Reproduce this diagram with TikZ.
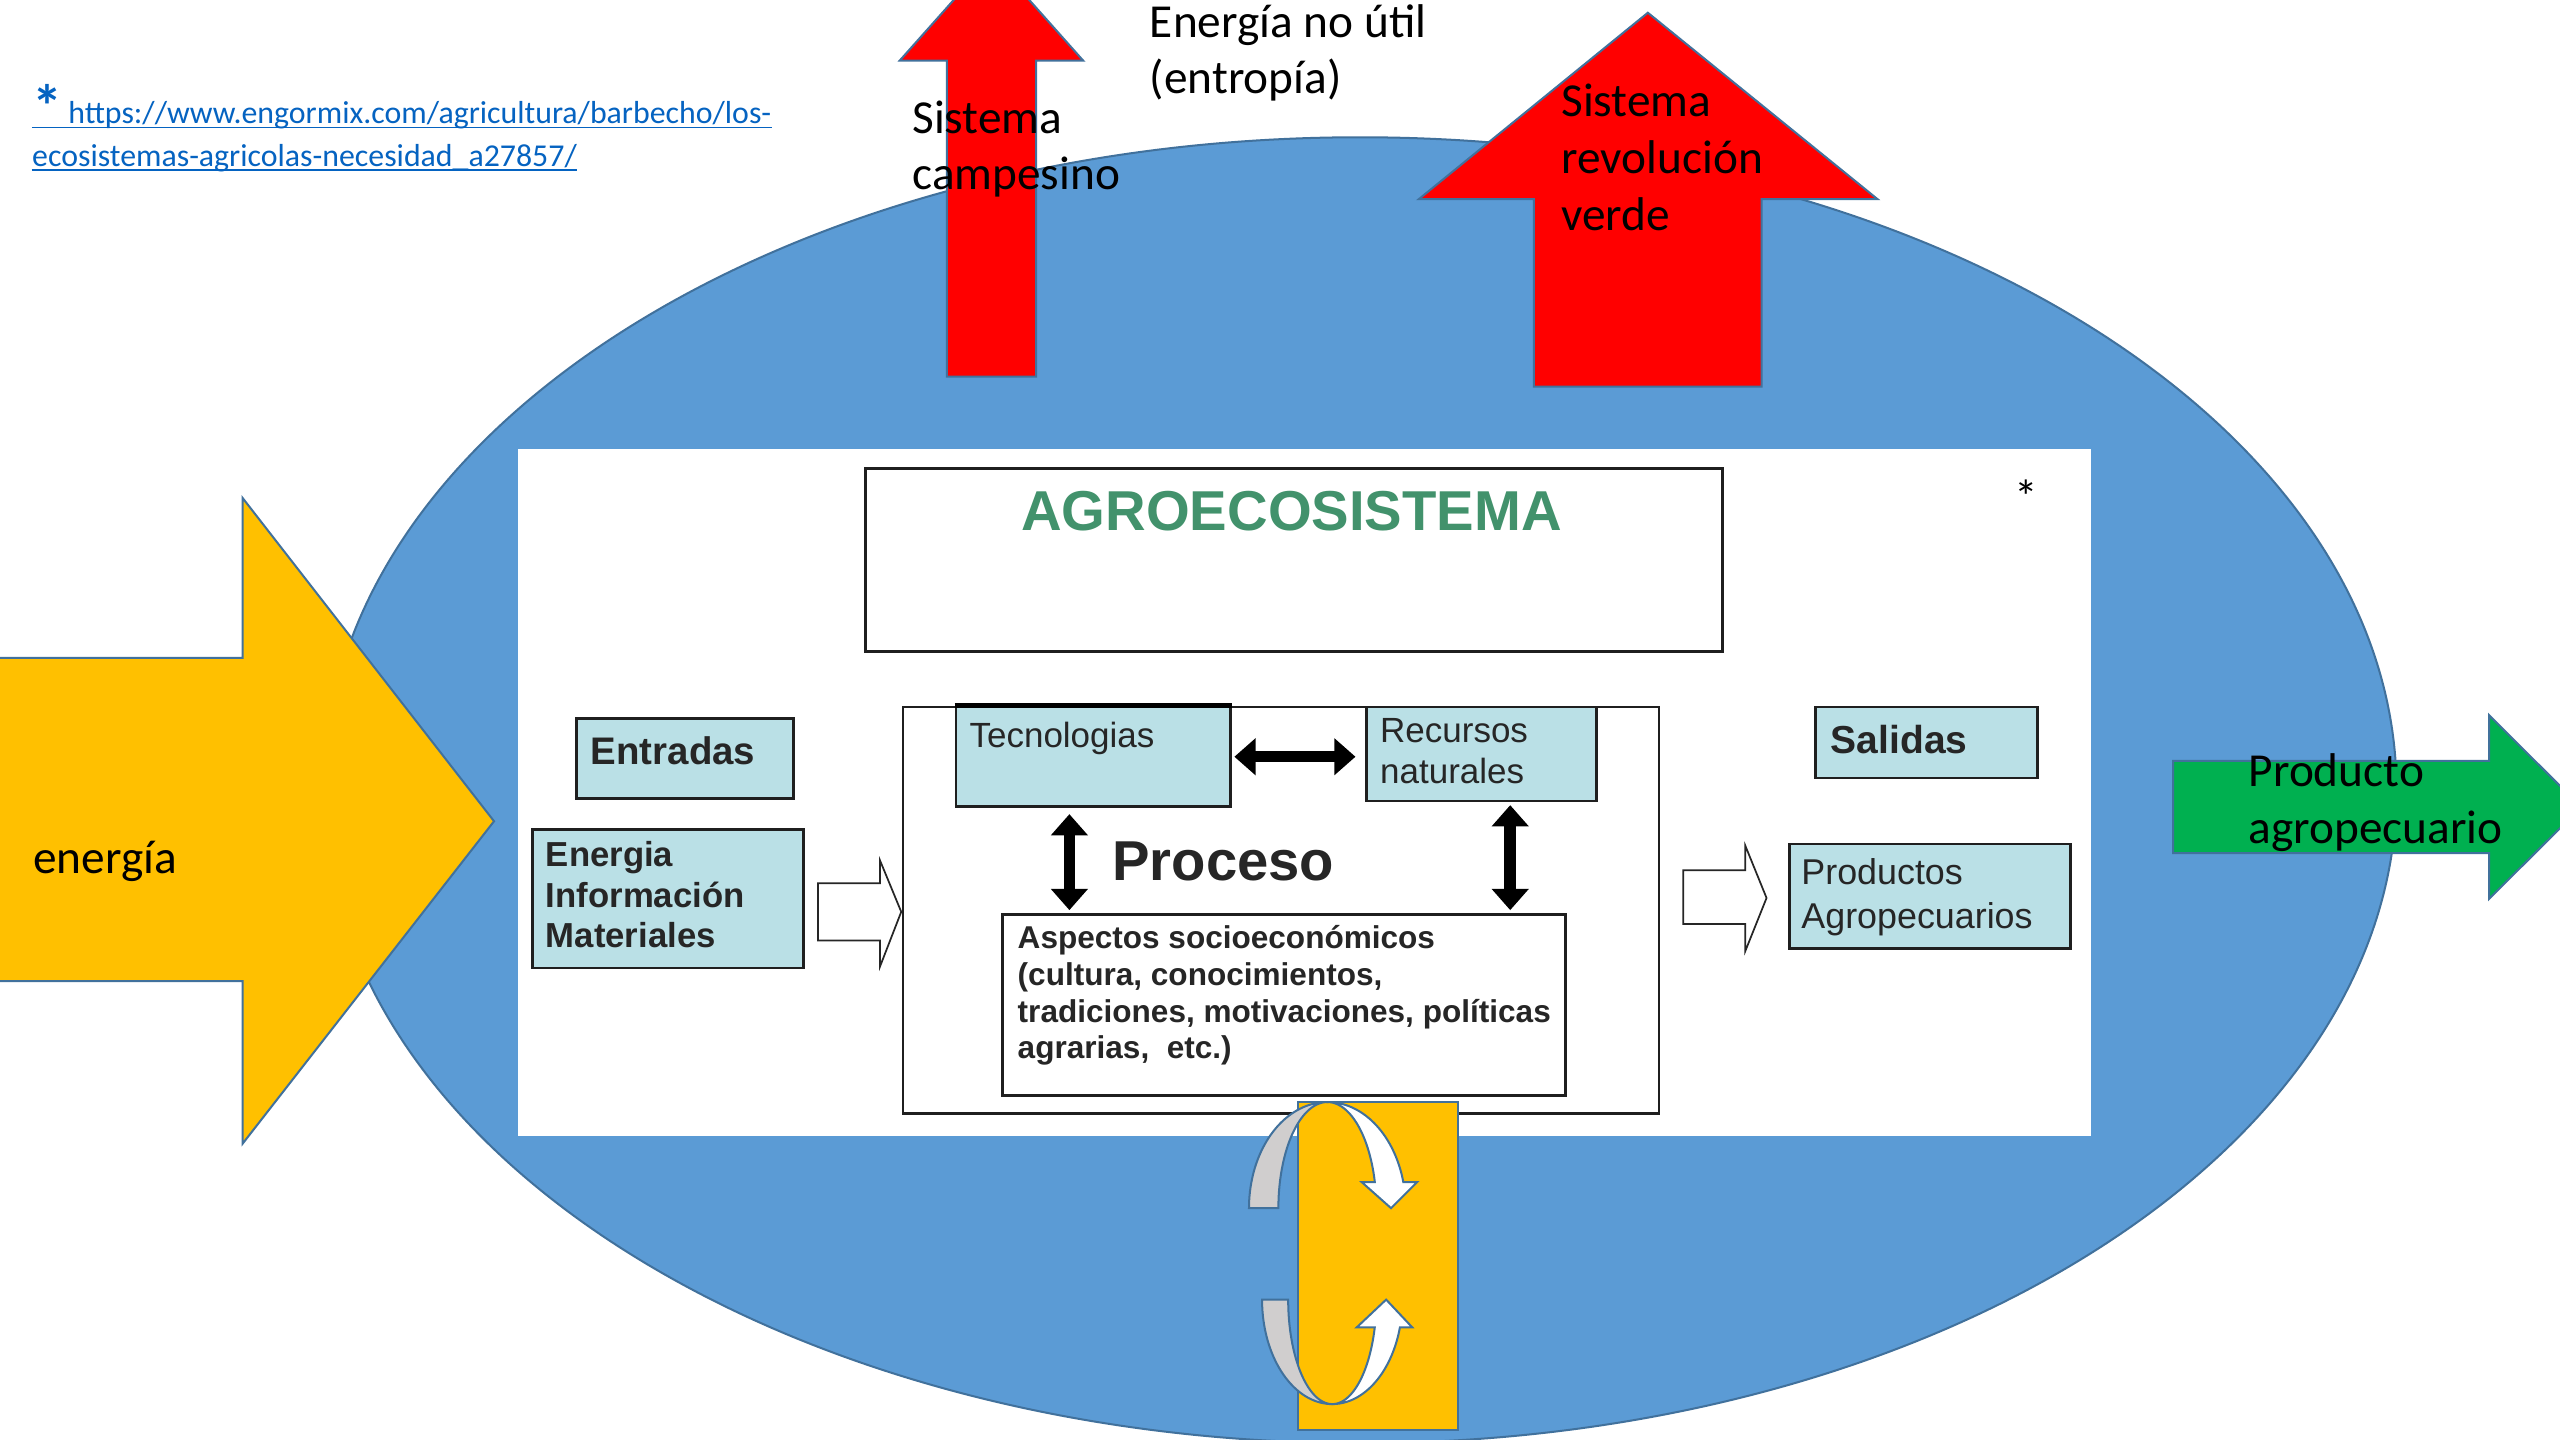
\documentclass[tikz,border=0pt]{standalone}
\usepackage{fontspec}
\setmainfont{Carlito}
\newfontfamily\diagfont{Liberation Sans}
\usetikzlibrary{arrows.meta,calc,fit}

\definecolor{ellblue}{RGB}{91,155,213}
\definecolor{edgeblue}{RGB}{65,113,156}
\definecolor{sunyellow}{RGB}{255,192,0}
\definecolor{hotred}{RGB}{255,0,0}
\definecolor{leafgreen}{RGB}{0,176,80}
\definecolor{boxblue}{RGB}{186,224,230}
\definecolor{titlegreen}{RGB}{66,146,108}
\definecolor{inktext}{RGB}{38,38,38}
\definecolor{linkblue}{RGB}{5,99,193}
\definecolor{loopgray}{RGB}{208,206,206}

\begin{document}
\begin{tikzpicture}[x=0.02cm, y=-0.02cm,
  shapeedge/.style={draw=edgeblue, line width=0.7pt, line join=miter},
  lbl/.style={font=\fontsize{16.5}{20}\selectfont, inner sep=0pt, anchor=base west, text=black},
  linktxt/.style={font=\fontsize{11.1}{14.8}\selectfont, inner sep=0pt, anchor=base west, text=linkblue},
  framebox/.style={draw=black!88, line width=0.9pt, inner sep=0pt, fill=white},
  cellbox/.style={framebox, fill=boxblue},
  dreg/.style={inner sep=0pt, anchor=base west, text=inktext, font=\diagfont\fontsize{12.2}{14}\selectfont},
  dbold/.style={dreg, font=\diagfont\bfseries\fontsize{12.1}{14}\selectfont},
  hollow/.style={draw=black!85, line width=0.6pt, fill=white, line join=miter},
  dbl/.style={draw=black, line width=4pt, {Triangle[length=7.4pt,width=12.5pt]}-{Triangle[length=7.4pt,width=12.5pt]}},
  loopedge/.style={draw=edgeblue, line width=0.7pt, line join=miter}
]
\useasboundingbox (0,0) rectangle (1568,882);
\clip (0,0) rectangle (1568,882);
\fill[white] (0,0) rectangle (1568,882);

% system boundary
\draw[shapeedge, fill=ellblue] (833,484) ellipse [x radius=12.7cm, y radius=8cm];

% energy leaving as entropy
\draw[shapeedge, fill=hotred] (580,230.7) -- (580,37.2) -- (551,37.2) -- (607.3,-26)
  -- (663.5,37.2) -- (634.6,37.2) -- (634.6,230.7) -- cycle;
\draw[shapeedge, fill=hotred] (939.5,236.8) -- (939.5,122) -- (869,122) -- (1009.3,7.8)
  -- (1150,122) -- (1079,122) -- (1079,236.8) -- cycle;

% energy input
\draw[shapeedge, fill=sunyellow] (-5,403) -- (148.6,403) -- (148.6,305) -- (302.6,503)
  -- (148.6,700.5) -- (148.6,601) -- (-5,601) -- cycle;

% product output
\draw[shapeedge, fill=leafgreen] (1331,466) -- (1524.5,466) -- (1524.5,438) -- (1581,494.3)
  -- (1524.5,550.6) -- (1524.5,522.5) -- (1331,522.5) -- cycle;

% agroecosystem panel
\node[fill=white, inner sep=0pt, fit={(317,275) (1281,696)}] (panel) {};

\node[framebox, fit={(530,287) (1055,399)}] (titlebox) {};
\node[inner sep=0pt, anchor=base, text=titlegreen,
      font=\diagfont\bfseries\fontsize{19.6}{23}\selectfont] (title) at (791,325) {AGROECOSISTEMA};
\node[lbl, anchor=base] (note) at (1241,314.5) {*};

% inputs
\node[cellbox, fit={(353,440) (486,489)}] (entbox) {};
\node[dbold, font=\diagfont\bfseries\fontsize{13.4}{16}\selectfont] (enttxt) at (361.5,468) {Entradas};
\node[cellbox, fit={(326,508) (492,593)}] (inbox) {};
\node[dbold] (in1) at (334,531) {Energia};
\node[dbold] (in2) at (334,556) {Información};
\node[dbold] (in3) at (334,580.5) {Materiales};

\draw[hollow] (501,541) -- (539,541) -- (539,527) -- (552,558.5) -- (539,592) -- (539,576)
  -- (501,576) -- cycle;

% process
\node[framebox, fill=none, fit={(553,433) (1016,682)}] (procbox) {};
\node[cellbox, fit={(585.5,433) (753.5,494)}] (tec) {};
\draw[black, line width=1.8pt] (tec.north west) -- (tec.north east);
\node[dreg] (tectxt) at (593.5,458) {Tecnologias};
\node[cellbox, fit={(837,433) (978,490.6)}] (rec) {};
\node[dreg] (rec1) at (845,455) {Recursos};
\node[dreg] (rec2) at (845,480) {naturales};
\node[inner sep=0pt, anchor=base west, text=inktext,
      font=\diagfont\bfseries\fontsize{19.6}{23}\selectfont] (proc) at (681,539) {Proceso};
\node[framebox, fit={(614,560) (959,671)}] (asp) {};
\node[dbold, font=\diagfont\bfseries\fontsize{11}{13}\selectfont] (asp1) at (623,581) {Aspectos socioeconómicos};
\node[dbold, font=\diagfont\bfseries\fontsize{11}{13}\selectfont] (asp2) at (623,603.5) {(cultura, conocimientos,};
\node[dbold, font=\diagfont\bfseries\fontsize{11}{13}\selectfont] (asp3) at (623,626) {tradiciones, motivaciones, políticas};
\node[dbold, font=\diagfont\bfseries\fontsize{11}{13}\selectfont] (asp4) at (623,648.5) {agrarias,\ \ etc.)};

\draw[dbl, shorten <=1pt, shorten >=3.4pt] (tec.east) -- (tec.east -| rec.west);
\coordinate (vl) at ($(tec.south)+(-14.5,0)$);
\draw[dbl, shorten <=2.2pt, shorten >=1pt] (vl) -- (vl |- asp.north);
\coordinate (vr) at ($(rec.south)+(17.5,0)$);
\draw[dbl, shorten <=1pt, shorten >=1pt] (vr) -- (vr |- asp.north);

% outputs
\draw[hollow] (1031,533) -- (1069,533) -- (1069,518) -- (1082,550) -- (1069,582.5) -- (1069,566)
  -- (1031,566) -- cycle;
\node[cellbox, fit={(1112,433) (1248,476.5)}] (salbox) {};
\node[dbold, font=\diagfont\bfseries\fontsize{13.6}{16}\selectfont] (saltxt) at (1121,461.4) {Salidas};
\node[cellbox, fit={(1096,517) (1268,581)}] (prodbox) {};
\node[dreg, font=\diagfont\fontsize{12.5}{15}\selectfont] (prod1) at (1103,541.5) {Productos};
\node[dreg, font=\diagfont\fontsize{12.5}{15}\selectfont] (prod2) at (1103,568.4) {Agropecuarios};

% recycling loop
\node[shapeedge, fill=sunyellow, inner sep=0pt, fit={(795,675) (893,876)}] (loopbox) {};
\filldraw[loopedge, fill=loopgray]
  plot[domain=180:270, samples=40, variable=\t] ({813+48*cos(\t)},{740+65*sin(\t)})
  -- plot[domain=270:180, samples=40, variable=\t] ({813+30*cos(\t)},{740+65*sin(\t)}) -- cycle;
\filldraw[loopedge, fill=white]
  plot[domain=270:345.75, samples=40, variable=\t] ({813+48*cos(\t)},{740+65*sin(\t)})
  -- (868,724) -- (852,740) -- (834,724)
  -- plot[domain=345.75:270, samples=40, variable=\t] ({813+30*cos(\t)},{740+65*sin(\t)}) -- cycle;
\filldraw[loopedge, fill=loopgray]
  plot[domain=180:90, samples=40, variable=\t] ({816+43*cos(\t)},{796+64*sin(\t)})
  -- plot[domain=90:180, samples=40, variable=\t] ({816+27*cos(\t)},{796+64*sin(\t)}) -- cycle;
\filldraw[loopedge, fill=white]
  plot[domain=90:15.4, samples=40, variable=\t] ({816+43*cos(\t)},{796+64*sin(\t)})
  -- (865,813) -- (849,796) -- (831,813)
  -- plot[domain=15.4:90, samples=40, variable=\t] ({816+27*cos(\t)},{796+64*sin(\t)}) -- cycle;

% labels
\node[lbl] (ent1) at (704,23) {Energía no útil};
\node[lbl] (ent2) at (704,57.5) {(entropía)};
\node[lbl] (camp1) at (558.5,81.5) {Sistema};
\node[lbl] (camp2) at (558.5,116.2) {campesino};
\node[lbl] (rev1) at (956,71.5) {Sistema};
\node[lbl] (rev2) at (956,106) {revolución};
\node[lbl] (rev3) at (956,141) {verde};
\node[lbl] (out1) at (1377,482) {Producto};
\node[lbl] (out2) at (1377,516.5) {agropecuario};
\node[lbl] (inlbl) at (20,535) {energía};

% source reference
\node[inner sep=0pt, anchor=base west, text=linkblue, font=\bfseries\fontsize{21}{24}\selectfont] (star) at (19.5,78) {*};
\node[linktxt] (url1) at (41.5,75.5) {https://www.engormix.com/agricultura/barbecho/los-};
\node[linktxt] (url2) at (19.4,101.7) {ecosistemas-agricolas-necesidad\_a27857/};
\coordinate (ul1) at ($(url1.base east)+(0,2.6)$);
\draw[linkblue, line width=0.55pt] (ul1 -| star.west) -- (ul1);
\coordinate (ul2) at ($(url2.base east)+(0,2.6)$);
\draw[linkblue, line width=0.55pt] (ul2 -| url2.west) -- (ul2);
\end{tikzpicture}
\end{document}
